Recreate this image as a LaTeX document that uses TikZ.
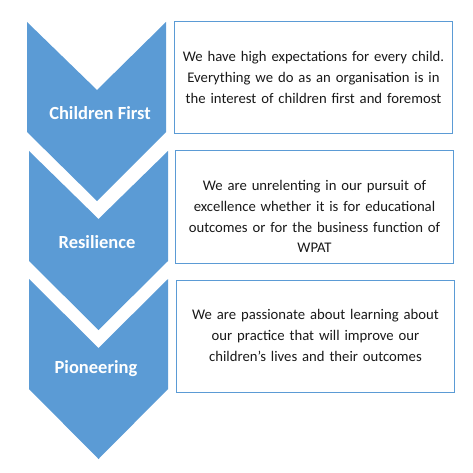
\documentclass[tikz,border=0pt]{standalone}
\usepackage{fontspec}
\setmainfont{Carlito}
\definecolor{valblue}{HTML}{5B9BD5}
\tikzset{
  chevron/.style={fill=valblue},
  chevlabel/.style={text=white, font=\fontsize{18.5}{20}\selectfont\bfseries, inner sep=0pt},
  valuebox/.style={draw=valblue, line width=1pt, minimum width=278pt, minimum height=112pt, inner sep=0pt},
  valuetext/.style={text=black!90, font=\fontsize{14.7}{20.6}\selectfont, text width=270pt, align=center, inner sep=0pt}
}
\begin{document}
\begin{tikzpicture}[x=1pt, y=-1pt]
			\useasboundingbox (0,0) rectangle (472,473);
			% chevrons
			\fill[chevron] (27,22) -- (97,90) -- (166,22) -- (166,132) -- (97,201) -- (27,132) -- cycle;
			\fill[chevron] (29,151) -- (98.5,219) -- (168,151) -- (168,261) -- (98.5,330) -- (29,261) -- cycle;
			\fill[chevron] (29,279) -- (98.5,348) -- (168,279) -- (168,389) -- (98.5,459) -- (29,389) -- cycle;
			\node[chevlabel] (cf) at (100,113) {Children First};
			\node[chevlabel] (res) at (97,242) {Resilience};
			\node[chevlabel] (pio) at (96,369) {Pioneering};
			% value boxes
			\node[valuebox] (b1) at (313.5,78) {};
			\node[valuebox] (b2) at (314.5,207) {};
			\node[valuebox] (b3) at (315.5,336) {};
			\node[valuetext, anchor=north] (t1) at ([yshift=-30pt]b1.north) {We have high expectations for every child.\\ Everything we do as an organisation is in\\ the interest of children first and foremost};
			\node[valuetext, anchor=north] (t2) at ([yshift=-30pt]b2.north) {We are unrelenting in our pursuit of\\ excellence whether it is for educational\\ outcomes or for the business function of\\ WPAT};
			\node[valuetext, anchor=north] (t3) at ([yshift=-30pt]b3.north) {We are passionate about learning about\\ our practice that will improve our\\ children’s lives and their outcomes};
		\end{tikzpicture}
\end{document}
